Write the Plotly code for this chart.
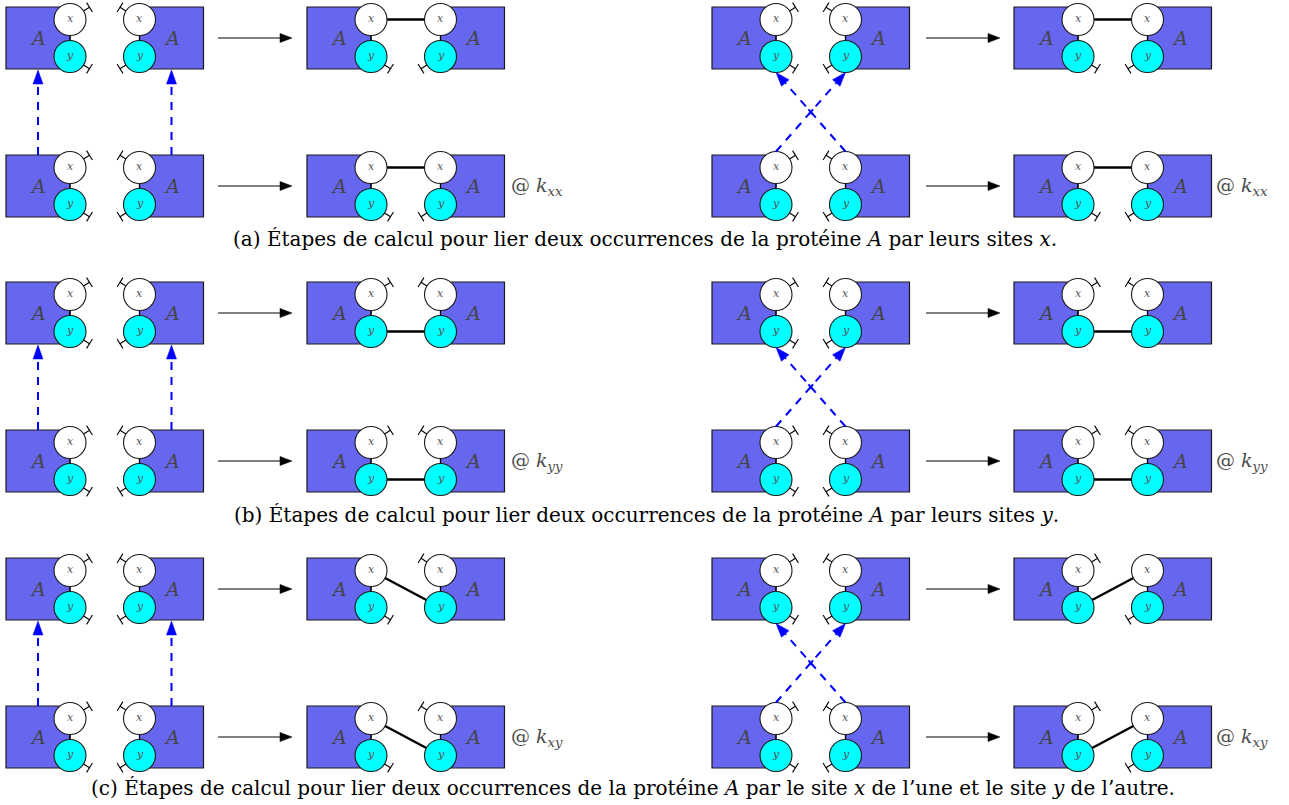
import math
import plotly.graph_objects as go

W, H = 1289, 805

# ---------------- data ----------------
panel_names = ["a", "b", "c"]
captions = [
    "(a) Étapes de calcul pour lier deux occurrences de la protéine <i>A</i> par leurs sites <i>x</i>.",
    "(b) Étapes de calcul pour lier deux occurrences de la protéine <i>A</i> par leurs sites <i>y</i>.",
    "(c) Étapes de calcul pour lier deux occurrences de la protéine <i>A</i> par le site <i>x</i> de l’une et le site <i>y</i> de l’autre.",
]
caption_x = [645, 646, 633]
caption_y = [239, 515, 788]
rate_subs = ["xx", "yy", "xy"]
# bonds formed (site of left protein, site of right protein)
bond_left_half = [("x", "x"), ("y", "y"), ("x", "y")]
bond_right_half = [("x", "x"), ("y", "y"), ("y", "x")]
# row centres (top, bottom) for each panel
row_top = [38, 313, 589]
row_bottom = [186, 461, 737]
# site-column positions of the left protein of each pair
left_half_pairs = [70, 371]
right_half_pairs = [776, 1078]
partner_gap = 69.5
reaction_arrow_left = [218, 292]
reaction_arrow_right = [926, 1000]
rate_label_x = [509, 1214]
protein_name = "A"
site_names = ["x", "y"]

# ---------------- style ----------------
BOX_W, BOX_H = 64, 62
R = 16
SITE_OFF = 18.5
BOX_COLOR = "rgb(102,102,238)"
CYAN = "rgb(0,255,255)"
EDGE = "#1a1a1a"
BLUE = "rgb(0,0,255)"
FONT = "DejaVu Serif"

shapes_back, shapes_bond, shapes_circ, shapes_top = [], [], [], []
annotations = []


def line(x0, y0, x1, y1, color="black", width=1.0, dash=None, bucket=None):
    d = dict(type="line", x0=x0, y0=y0, x1=x1, y1=y1, xref="x", yref="y",
             line=dict(color=color, width=width))
    if dash:
        d["line"]["dash"] = dash
    (bucket if bucket is not None else shapes_top).append(d)


def tri(x0, y0, x1, y1, L, w, color):
    dx, dy = x1 - x0, y1 - y0
    n = math.hypot(dx, dy)
    ux, uy = dx / n, dy / n
    bx, by = x1 - L * ux, y1 - L * uy
    px, py = -uy, ux
    path = (f"M {x1},{y1} L {bx + w * px},{by + w * py} "
            f"L {bx - w * px},{by - w * py} Z")
    shapes_top.append(dict(type="path", path=path, xref="x", yref="y",
                           fillcolor=color, line=dict(color=color, width=0.5)))
    return bx, by


def site_pos(cx, cy, site):
    return (cx, cy - SITE_OFF) if site == "x" else (cx, cy + SITE_OFF)


def tick(cx, cy, site, side):
    # free-site marker: short stub with perpendicular bar
    sx, sy = site_pos(cx, cy, site)
    ang = math.radians(32)
    ux = math.cos(ang) * side
    uy = -math.sin(ang) if site == "x" else math.sin(ang)
    x0, y0 = sx + R * ux, sy + R * uy
    x1, y1 = sx + 23 * ux, sy + 23 * uy
    line(x0, y0, x1, y1, width=1.1)
    px, py = -uy, ux
    line(x1 + 5.5 * px, y1 + 5.5 * py, x1 - 5.5 * px, y1 - 5.5 * py, width=1.1)


def protein(cx, cy, side, free_sites):
    # side = -1: box to the left of sites; +1: box to the right
    if side < 0:
        bx0, bx1 = cx - BOX_W, cx
    else:
        bx0, bx1 = cx, cx + BOX_W
    shapes_back.append(dict(type="rect", x0=bx0, x1=bx1, y0=cy - BOX_H / 2, y1=cy + BOX_H / 2,
                            xref="x", yref="y", fillcolor=BOX_COLOR,
                            line=dict(color=EDGE, width=1.2)))
    line(cx, cy - SITE_OFF, cx, cy + SITE_OFF, width=1.2, bucket=shapes_back)
    for s in site_names:
        sx, sy = site_pos(cx, cy, s)
        shapes_circ.append(dict(type="circle", x0=sx - R, x1=sx + R, y0=sy - R, y1=sy + R,
                                xref="x", yref="y",
                                fillcolor="white" if s == "x" else CYAN,
                                line=dict(color=EDGE, width=1.1)))
        annotations.append(dict(x=sx, y=sy - 1, text=f"<i>{s}</i>", showarrow=False,
                                xref="x", yref="y",
                                font=dict(family=FONT, size=11, color="#555555")))
        if s in free_sites:
            tick(cx, cy, s, -side)
    annotations.append(dict(x=(bx0 + bx1) / 2, y=cy, text=f"<i>{protein_name}</i>",
                            showarrow=False, xref="x", yref="y",
                            font=dict(family=FONT, size=19, color="#454545")))


def pair(cxl, cy, bond=None):
    cxr = cxl + partner_gap
    fl = [s for s in site_names if not bond or s != bond[0]]
    fr = [s for s in site_names if not bond or s != bond[1]]
    protein(cxl, cy, -1, fl)
    protein(cxr, cy, +1, fr)
    if bond:
        x0, y0 = site_pos(cxl, cy, bond[0])
        x1, y1 = site_pos(cxr, cy, bond[1])
        line(x0, y0, x1, y1, width=2.4, bucket=shapes_bond)


def react_arrow(xs, cy):
    bx, by = tri(xs[0], cy, xs[1], cy, 12, 4.6, "black")
    line(xs[0], cy, bx, by, width=1.1)


def dashed_arrow(x0, y0, x1, y1):
    bx, by = tri(x0, y0, x1, y1, 14, 5, BLUE)
    line(x0, y0, bx, by, color=BLUE, width=2.0, dash="8px,7px")


for p in range(3):
    yt, yb = row_top[p], row_bottom[p]
    # left half
    for cy in (yt, yb):
        pair(left_half_pairs[0], cy)
        react_arrow(reaction_arrow_left, cy)
        pair(left_half_pairs[1], cy, bond_left_half[p])
    for cx, side in ((left_half_pairs[0], -1), (left_half_pairs[0] + partner_gap, 1)):
        xc = cx + side * BOX_W / 2
        dashed_arrow(xc, yb - BOX_H / 2, xc, yt + BOX_H / 2 + 1)
    # right half
    for cy in (yt, yb):
        pair(right_half_pairs[0], cy)
        react_arrow(reaction_arrow_right, cy)
        pair(right_half_pairs[1], cy, bond_right_half[p])
    cl = right_half_pairs[0]
    cr = cl + partner_gap
    y_start = yb - SITE_OFF - R
    y_end = yt + SITE_OFF + R
    dashed_arrow(cl, y_start, cr, y_end)
    dashed_arrow(cr, y_start, cl, y_end)
    # small cross where the two dashed arrows meet
    mx, my = (cl + cr) / 2, (y_start + y_end) / 2
    dx, dy = cr - cl, y_end - y_start
    n = math.hypot(dx, dy)
    ux, uy = dx / n * 3.5, dy / n * 3.5
    line(mx - ux, my - uy, mx + ux, my + uy, color=BLUE, width=2.0)
    line(mx + ux, my - uy, mx - ux, my + uy, color=BLUE, width=2.0)
    # rate labels
    for lx in rate_label_x:
        annotations.append(dict(x=lx, y=yb, xanchor="left", yanchor="middle",
                                text=f"@ <i>k</i><sub><i>{rate_subs[p]}</i></sub>",
                                showarrow=False, xref="x", yref="y",
                                font=dict(family=FONT, size=19, color="#4d4d4d")))
    annotations.append(dict(x=caption_x[p], y=caption_y[p], text=captions[p],
                            showarrow=False, xref="x", yref="y",
                            font=dict(family=FONT, size=20, color="black")))

fig = go.Figure()
fig.update_layout(
    width=W, height=H,
    margin=dict(l=0, r=0, t=0, b=0),
    paper_bgcolor="white", plot_bgcolor="white",
    xaxis=dict(range=[0, W], visible=False, fixedrange=True),
    yaxis=dict(range=[H, 0], visible=False, fixedrange=True),
    shapes=shapes_back + shapes_bond + shapes_circ + shapes_top,
    annotations=annotations,
    showlegend=False,
)
fig.write_html("out.html", config={"displayModeBar": False},
               post_script="document.body.style.margin='0px';")
